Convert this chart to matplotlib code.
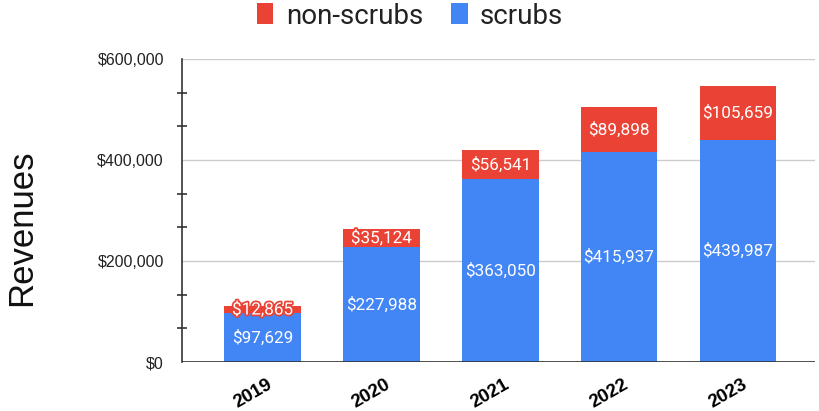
import matplotlib
matplotlib.use("Agg")
import matplotlib.pyplot as plt
import matplotlib.patheffects as pe
import matplotlib.transforms as mtrans
from matplotlib.ticker import FuncFormatter, MultipleLocator
import numpy as np

years = ["2019", "2020", "2021", "2022", "2023"]
scrubs = [97629, 227988, 363050, 415937, 439987]
non_scrubs = [12865, 35124, 56541, 89898, 105659]

BLUE = "#4285F4"
RED = "#EA4335"

fig = plt.figure(figsize=(8.19, 4.11), dpi=100)
ax = fig.add_axes([182 / 819, 1 - 362 / 411, (815 - 182) / 819, (362 - 59) / 411])

x = np.arange(len(years))
w = 0.645
b1 = ax.bar(x, scrubs, width=w, color=BLUE, zorder=3)
b2 = ax.bar(x, non_scrubs, width=w, bottom=scrubs, color=RED, zorder=3)

ax.set_xlim(-0.68, 4.65)
ax.set_ylim(0, 600000)

lab_font = dict(family="Roboto", size=12.3, color="white", zorder=5)
for i in range(len(years)):
    ax.text(x[i], scrubs[i] / 2, f"${scrubs[i]:,}", ha="center", va="center", **lab_font)
    t = ax.text(x[i], scrubs[i] + non_scrubs[i] / 2, f"${non_scrubs[i]:,}",
                ha="center", va="center", **lab_font)
    if non_scrubs[i] < 40000:
        t.set_path_effects([pe.withStroke(linewidth=2.5, foreground=RED)])

# axes styling
for s in ["top", "right", "bottom"]:
    ax.spines[s].set_visible(False)
ax.spines["left"].set_color("#333333")
ax.spines["left"].set_linewidth(1.2)
ax.axhline(0, color="#333333", lw=1.2, zorder=4)

ax.yaxis.set_major_locator(MultipleLocator(200000))
ax.yaxis.set_minor_locator(MultipleLocator(200000 / 3))
ax.yaxis.set_major_formatter(FuncFormatter(lambda v, p: f"${int(v):,}"))
ax.tick_params(axis="y", which="major", length=0, pad=13, labelsize=11.5,
               labelcolor="#222222")
ax.tick_params(axis="y", which="minor", direction="inout", length=7, width=1.2,
               color="#333333")
ax.grid(axis="y", which="major", color="#cccccc", lw=1, zorder=0)
for lab in ax.get_yticklabels():
    lab.set_fontfamily("Liberation Sans")

ax.set_xticks(x)
ax.set_xticklabels(years, rotation=30, fontweight="bold", fontsize=13.5,
                   family="Liberation Sans", color="black")
ax.tick_params(axis="x", length=0, pad=10)
shift = mtrans.ScaledTranslation(-10 / 100, 0, fig.dpi_scale_trans)
for lab in ax.get_xticklabels():
    lab.set_transform(lab.get_transform() + shift)

fig.text(22 / 819, 1 - 228 / 411, "Revenues", rotation=90, ha="center", va="center",
         fontsize=25, family="Liberation Sans", color="#111111")

handles = [b2, b1]
leg = fig.legend(handles, ["non-scrubs", "scrubs"], loc="center",
                 bbox_to_anchor=(410 / 819, 1 - 16 / 411), ncol=2, frameon=False,
                 prop=dict(family="Roboto", size=20), handlelength=0.6,
                 handleheight=0.8, handletextpad=0.45, columnspacing=1.0)
for t in leg.get_texts():
    t.set_color("#222222")

fig.savefig("out.png", dpi=100)
